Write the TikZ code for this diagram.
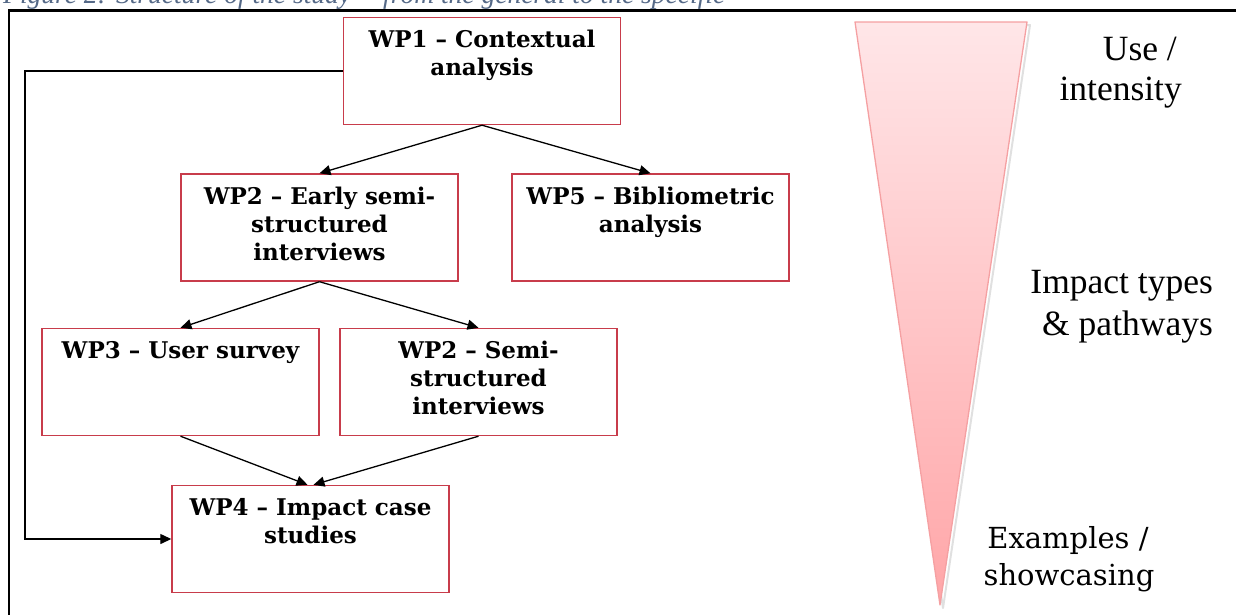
\documentclass[tikz,border=0pt]{standalone}
\usepackage{fontspec}
\setmainfont{DejaVu Serif}
\newfontfamily\timesf{Liberation Serif}
\usetikzlibrary{arrows.meta}
\definecolor{boxred}{RGB}{200,60,75}
\definecolor{tritop}{RGB}{255,230,232}
\definecolor{trimid}{RGB}{255,174,176}
\definecolor{tribot}{RGB}{255,166,168}
\definecolor{triedge}{RGB}{245,160,162}
\definecolor{capcol}{RGB}{85,105,135}
\newcommand\wptext[1]{\parbox[c][107pt][t]{277pt}{\centering\fontsize{23}{28}\selectfont\bfseries\rule{0pt}{30pt}#1}}
\begin{document}
\begin{tikzpicture}[x=1pt,y=-1pt,
  wpbox/.style={draw=boxred, line width=1.4pt, inner sep=0pt, fill=white},
  arr/.style={line width=1.3pt, -{Triangle[length=11pt,width=10pt]}},
  rtext/.style={font=\timesf\fontsize{35.5}{40}\selectfont, inner sep=0pt},
  gtext/.style={font=\fontsize{29}{34}\selectfont, inner sep=0pt}]
\useasboundingbox (0,0) rectangle (1236,614);
% caption (cut off at top)
\node[anchor=base west, inner sep=0pt, text=capcol] (cap) at (3,3.5)
  {\resizebox{722pt}{!}{\timesf\itshape\fontsize{20}{24}\selectfont Figure 2: Structure of the study -- from the general to the specific}};
% frame
\draw[line width=2.6pt] (9,620) -- (9,10.5) -- (1240,10.5);
% triangle with faint shadow
\draw[black!12, line width=2pt, line join=round] (858,25) -- (1030,25) -- (943,608) -- cycle;
\shade[top color=tritop, middle color=trimid, bottom color=tribot] (855,22) -- (1027,22) -- (940,605) -- cycle;
\draw[triedge, line width=1.3pt, line join=round] (855,22) -- (1027,22) -- (940,605) -- cycle;
% boxes
\node[wpbox] (wp1) at (482,71) {\wptext{WP1 -- Contextual\\analysis}};
\node[wpbox] (wp2e) at (319.5,227.5) {\wptext{WP2 -- Early semi-\\structured\\interviews}};
\node[wpbox] (wp5) at (650.5,227.5) {\wptext{WP5 -- Bibliometric\\analysis}};
\node[wpbox] (wp3) at (180.5,382) {\wptext{WP3 -- User survey}};
\node[wpbox] (wp2s) at (478.5,382) {\wptext{WP2 -- Semi-\\structured\\interviews}};
\node[wpbox] (wp4) at (310.5,539) {\wptext{WP4 -- Impact case\\studies}};
% arrows
\draw[arr] (wp1.south) -- (wp2e.north);
\draw[arr] (wp1.south) -- (wp5.north);
\draw[arr] (wp2e.south) -- (wp3.north);
\draw[arr] (wp2e.south) -- (wp2s.north);
\draw[arr] (wp3.south) -- ([xshift=-3pt]wp4.north);
\draw[arr] (wp2s.south) -- ([xshift=3pt]wp4.north);
\coordinate (fb) at (25,0);
\draw[arr] (wp1.west) -- (wp1.west -| fb) |- (wp4.west);
% right-hand labels
\node[rtext, anchor=base east] (use1) at (1177,60) {Use /};
\node[rtext, anchor=base east] (use2) at (1182,100) {intensity};
\node[rtext, anchor=base east] (imp1) at (1213,293) {Impact types};
\node[rtext, anchor=base east] (imp2) at (1213,335) {\& pathways};
\node[gtext, anchor=base] (ex1) at (1068,548) {Examples /};
\node[gtext, anchor=base] (ex2) at (1069,585) {showcasing};
\end{tikzpicture}
\end{document}
